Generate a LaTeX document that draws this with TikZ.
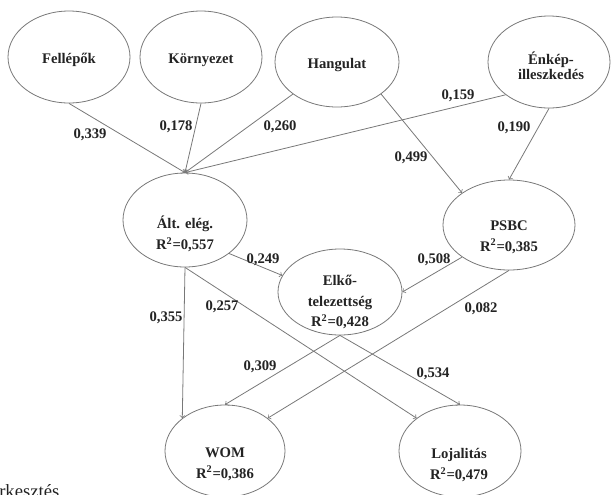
\documentclass[tikz,border=0pt]{standalone}
\usepackage{fontspec}
\setmainfont{Liberation Serif}
\usetikzlibrary{shapes, arrows}

\definecolor{linegray}{RGB}{120,120,120}
\definecolor{textdark}{RGB}{35,35,35}

\begin{document}
\begin{tikzpicture}[
    x=0.75pt, y=-0.75pt,
    construct/.style={ellipse, draw=linegray, line width=0.6pt, minimum width=91.5pt, minimum height=69pt},
    ctext/.style={align=center, text=textdark, font=\fontsize{11}{15.5}\selectfont\bfseries},
    coef/.style={text=textdark, font=\fontsize{11}{13}\selectfont\bfseries},
    link/.style={->, draw=linegray, line width=0.6pt}
]
\useasboundingbox (0,0) rectangle (612,494);
\clip (0,0) rectangle (612,494);

% Exogenous constructs
\node[construct] (fel) at (69,57) {};
\node[ctext] (fel-t) at (69,60) {Fellépők};
\node[construct] (kor) at (201,57) {};
\node[ctext] (kor-t) at (201,60) {Környezet};
\node[construct, minimum width=93pt, minimum height=67.5pt] (han) at (337,62) {};
\node[ctext] (han-t) at (337,65) {Hangulat};
\node[construct] (enk) at (549,62) {};
\node[ctext] (enk-t) at (551,66) {Énkép-\\[-4pt]illeszkedés};

% Mediators
\node[construct, minimum width=93pt, minimum height=70.5pt] (alt) at (185,220) {};
\node[ctext] (alt-t) at (185,234) {Ált. elég.\\R\textsuperscript{2}=0,557};
\node[construct, minimum width=99pt, minimum height=67.5pt] (psbc) at (509,225) {};
\node[ctext] (psbc-t) at (509,237) {PSBC\\R\textsuperscript{2}=0,385};
\node[construct, minimum width=93pt, minimum height=64.5pt] (elko) at (340,292) {};
\node[ctext] (elko-t) at (340,302) {Elkő-\\telezettség\\R\textsuperscript{2}=0,428};

% Outcomes
\node[construct, minimum width=90pt] (wom) at (225,451) {};
\node[ctext] (wom-t) at (225,464) {WOM\\R\textsuperscript{2}=0,386};
\node[construct] (loj) at (460,451) {};
\node[ctext] (loj-t) at (459,465) {Lojalitás\\R\textsuperscript{2}=0,479};

% Paths
\draw[link] (fel.south) -- (alt.north);
\draw[link] (kor.south) -- (alt.north);
\draw[link] (han.south west) -- (alt.north);
\draw[link] (enk.south west) -- (alt.north);
\draw[link] (han.south east) -- (psbc.north west);
\draw[link] (enk.south) -- (psbc.north);
\draw[link] (alt.south east) -- (elko.164);
\draw[link] (psbc.south west) -- (elko.east);
\draw[link] (alt.south) -- (wom.north west);
\draw[link] (alt.south) -- (loj.north west);
\draw[link] (elko.south) -- (wom.north);
\draw[link] (elko.south) -- (loj.north);
\draw[link] (psbc.south) -- (wom.north east);

% Coefficients
\node[coef] (c1) at (90,135) {0,339};
\node[coef] (c2) at (176,127) {0,178};
\node[coef] (c3) at (280,127) {0,260};
\node[coef] (c4) at (458,96) {0,159};
\node[coef] (c5) at (514,128) {0,190};
\node[coef] (c6) at (411,158) {0,499};
\node[coef] (c7) at (263,260) {0,249};
\node[coef] (c8) at (434,260) {0,508};
\node[coef] (c9) at (481,309) {0,082};
\node[coef] (c10) at (166,318) {0,355};
\node[coef] (c11) at (222,307) {0,257};
\node[coef] (c12) at (260,367) {0,309};
\node[coef] (c13) at (433,374) {0,534};

% Caption (cut off)
\node[anchor=base west, inner sep=0pt, text=textdark, font=\fontsize{14}{16}\selectfont] (src) at (-1,497) {rkesztés};

\end{tikzpicture}
\end{document}
